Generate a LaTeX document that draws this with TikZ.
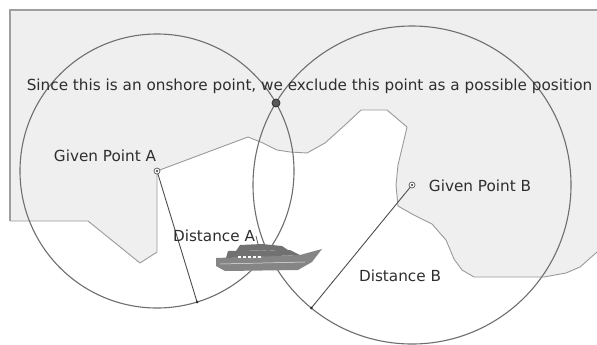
\documentclass[tikz,border=0pt]{standalone}
\usepackage{fontspec}
\setmainfont{DejaVu Sans}
\usetikzlibrary{calc}
\definecolor{landfill}{HTML}{EFEFEF}
\definecolor{coast}{HTML}{9A9A9A}
\definecolor{ring}{HTML}{6E6E6E}
\definecolor{ink}{HTML}{2E2E2E}
\definecolor{hull}{HTML}{858585}
\tikzset{
  label text/.style={font=\fontsize{15.3}{17}\selectfont, text=ink, inner sep=0pt},
  ptmark/.style={circle, draw=ink!80, line width=0.7pt, minimum size=6bp, inner sep=0pt, fill=white},
  range circle/.style={draw=ring, line width=1.1pt},
  range line/.style={draw=ink!85, line width=0.9pt},
}
\begin{document}
\begin{tikzpicture}[x=1bp,y=-1bp]
  \useasboundingbox (0,0) rectangle (597,344);
  \clip (0,0) rectangle (597,344);
  \fill[white] (0,0) rectangle (597,344);

  % coastline: land mass in light gray, sea left white
  \draw[coast, fill=landfill, line width=0.9pt, line join=round]
    (10,10) -- (605,10) -- (605,245) -- (580,267) -- (566,273) -- (544,277)
    -- (474,277) -- (462,270) -- (454,259) -- (446,240) -- (432,224)
    -- (412,214) -- (398,206) -- (396,185) -- (398,165) -- (404,140)
    -- (407,127) -- (387,110) -- (361,110) -- (345,125) -- (325,143)
    -- (307,153) -- (290,152) -- (277,150) -- (263,143) -- (248,137)
    -- (157,171) -- (157,252) -- (140,263) -- (88,221) -- (10,221) -- cycle;
  \draw[draw=gray!75, line width=1.6pt] (10,221) -- (10,10) -- (605,10);

  % the two given points and the range circles around them
  \coordinate (A) at (157,171);
  \coordinate (B) at (412,185);
  \draw[range circle] (A) circle[radius=137];
  \draw[range circle] (B) circle[radius=159];

  % measured distances
  \coordinate (Aend) at ($(A)+(73:137)$);
  \coordinate (Bend) at ($(B)+(129.3:159)$);
  \draw[range line] (A) -- (Aend);
  \draw[range line] (B) -- (Bend);
  \fill[ink] (Aend) circle[radius=1.5];
  \fill[ink] (Bend) circle[radius=1.5];

  \node[ptmark] (PA) at (A) {};
  \fill[ink] (PA.center) circle[radius=1.2];
  \node[ptmark] (PB) at (B) {};
  \fill[ink] (PB.center) circle[radius=1.2];

  % onshore intersection
  \node[circle, draw=ink, fill=ink!80, line width=0.8pt, minimum size=8bp, inner sep=0pt] (X) at (276,103) {};

  % the vessel
  \begin{scope}
    \fill[hull] (216,258) -- (300,255) -- (322,249) -- (312,262) -- (298,270)
      -- (225,271) -- (216,266) -- cycle;
    \fill[hull!85!black] (228,251) -- (290,250) -- (300,255) -- (226,258) -- cycle;
    \fill[hull!85!black] (240,245) -- (262,244) -- (282,246) -- (288,250) -- (236,251) -- cycle;
    \draw[hull!70!black, line width=0.8pt] (258,244) -- (256,236);
    \foreach \wx in {238,243,248,253,258}
      \fill[white] (\wx,255.5) rectangle ++(2.5,2);
    \draw[white!80!hull, line width=0.5pt] (220,264) -- (305,262);
  \end{scope}

  % texts
  \node[label text, anchor=center] (note) at (309.5,86)
    {Since this is an onshore point, we exclude this point as a possible position};
  \node[label text] (la) at (105,156) {Given Point A};
  \node[label text] (lb) at (480,186) {Given Point B};
  \node[label text] (da) at (214,236) {Distance A};
  \node[label text] (db) at (400,276) {Distance B};
\end{tikzpicture}
\end{document}
